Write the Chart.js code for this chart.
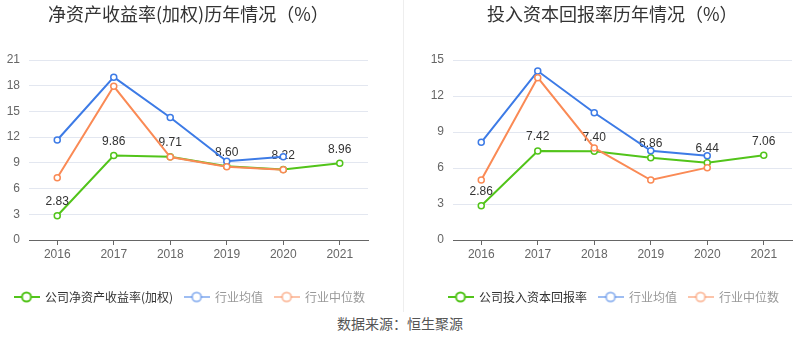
<!DOCTYPE html>
<html>
<head>
<meta charset="utf-8">
<script src="https://cdn.jsdelivr.net/npm/chart.js@4/dist/chart.umd.min.js"></script>
<style>
  body { margin: 0; background: #fff; }
  #wrap { position: relative; width: 800px; height: 358px; overflow: hidden; font-family: "Noto Sans CJK SC", sans-serif; }
  .box { position: absolute; top: 0; width: 400px; height: 313px; }
  .title { position: absolute; top: 0; font-size: 18px; line-height: 26px; color: #333; white-space: nowrap; }
  #src { position: absolute; left: 0; width: 800px; top: 314px; text-align: center; font-size: 14px; line-height: 18px; color: #555; }
  #sep { position: absolute; left: 403px; top: 0; width: 1px; height: 312px; background: #eeeeee; }
</style>
</head>
<body>
<div id="wrap">
  <div class="box" style="left:0"><canvas id="roeChart" width="400" height="313"></canvas></div>
  <div class="box" style="left:400px"><canvas id="roicChart" width="400" height="313"></canvas></div>
  <div class="title" style="left:48px">净资产收益率(加权)历年情况（%）</div>
  <div class="title" style="left:487px">投入资本回报率历年情况（%）</div>
  <div id="sep"></div>
  <div id="src">数据来源：恒生聚源</div>
</div>
<script>
// --- data ---
const years = ['2016', '2017', '2018', '2019', '2020', '2021'];

const roeCompany = [2.83, 9.86, 9.71, 8.60, 8.22, 8.96];
const roeMean = [11.67, 19.0, 14.3, 9.18, 9.72];
const roeMedian = [7.27, 17.93, 9.68, 8.55, 8.2];

const roicCompany = [2.86, 7.42, 7.40, 6.86, 6.44, 7.06];
const roicMean = [8.14, 14.08, 10.6, 7.44, 7.03];
const roicMedian = [5.0, 13.53, 7.67, 5.0, 6.03];

const GREEN = '#52c41a';
const BLUE = '#3d7be6';
const ORANGE = '#fa8a55';

// legend symbol: short line with hollow circle
function legendIcon(color) {
  const c = document.createElement('canvas');
  c.width = 26; c.height = 12;
  const g = c.getContext('2d');
  g.strokeStyle = color;
  g.lineWidth = 2;
  g.beginPath(); g.moveTo(0, 6); g.lineTo(26, 6); g.stroke();
  g.beginPath(); g.arc(13, 6, 4.5, 0, Math.PI * 2);
  g.fillStyle = '#fff'; g.fill(); g.stroke();
  return c;
}
const icons = [legendIcon(GREEN), legendIcon('rgba(61,123,230,0.5)'), legendIcon('rgba(250,138,85,0.5)')];
const legendColors = ['#333', '#999', '#999'];

// value labels on the company series, drawn before the other lines go on top
const valueLabels = {
  id: 'valueLabels',
  afterDatasetDraw(chart, args) {
    if (args.index !== 0) return;
    const ctx = chart.ctx;
    ctx.save();
    ctx.font = '12px "Liberation Sans", Arial, sans-serif';
    ctx.fillStyle = '#333';
    ctx.textAlign = 'center';
    ctx.textBaseline = 'middle';
    args.meta.data.forEach((pt, i) => {
      ctx.fillText(chart.data.datasets[0].data[i].toFixed(2), pt.x, pt.y - 14);
    });
    ctx.restore();
  }
};

// push the legend sideways without touching the axes
const legendShift = {
  id: 'legendShift',
  afterLayout(chart, args, opts) {
    if (chart.legend) chart.legend.left += opts.dx || 0;
  }
};

function line(label, data, color, order) {
  return {
    label: label,
    data: data,
    borderColor: color,
    backgroundColor: '#fff',
    borderWidth: 2,
    pointRadius: 3,
    pointBorderWidth: 1.5,
    pointBackgroundColor: '#fff',
    pointBorderColor: color,
    pointHoverRadius: 3,
    tension: 0,
    order: order
  };
}

function makeChart(id, companyLabel, company, mean, median, yMax, yWidth, rightWidth, legendDx) {
  return new Chart(document.getElementById(id), {
    type: 'line',
    data: {
      labels: years,
      datasets: [
        line(companyLabel, company, GREEN, 3),
        line('行业均值', mean, BLUE, 2),
        line('行业中位数', median, ORANGE, 1)
      ]
    },
    plugins: [valueLabels, legendShift],
    options: {
      responsive: false,
      animation: false,
      events: [],
      layout: { padding: { left: 3, right: 0, top: 60, bottom: 0 } },
      scales: {
        x: {
          offset: true,
          grid: { display: true, drawOnChartArea: false, drawTicks: true, tickLength: 5, tickColor: '#666', offset: false },
          border: { display: true, color: '#666', width: 1 },
          ticks: { color: '#666', padding: 2, font: { size: 12, family: '"Liberation Sans", Arial, sans-serif' } },
          afterFit: s => { s.height = 40; }
        },
        y: {
          min: 0,
          max: yMax,
          grid: { color: '#e3e7f0', drawTicks: false },
          border: { display: false },
          ticks: { stepSize: 3, color: '#666', padding: 9, font: { size: 12, family: '"Liberation Sans", Arial, sans-serif' } },
          afterFit: s => { s.width = yWidth; }
        },
        yR: {
          position: 'right',
          display: true,
          grid: { display: false },
          border: { display: false },
          ticks: { display: false },
          afterFit: s => { s.width = rightWidth; }
        }
      },
      plugins: {
        tooltip: { enabled: false },
        title: { display: false },
        legendShift: { dx: legendDx },
        legend: {
          position: 'bottom',
          align: 'start',
          labels: {
            usePointStyle: true,
            pointStyleWidth: 25,
            padding: 11,
            font: { size: 12, family: '"Noto Sans CJK SC", sans-serif' },
            generateLabels: chart => chart.data.datasets.map((ds, i) => ({
              text: ds.label,
              datasetIndex: i,
              pointStyle: icons[i],
              fontColor: legendColors[i],
              fillStyle: '#fff',
              strokeStyle: ds.borderColor,
              lineWidth: 0,
              hidden: false
            }))
          }
        }
      }
    }
  });
}

makeChart('roeChart', '公司净资产收益率(加权)', roeCompany, roeMean, roeMedian, 21, 26, 32, 0);
makeChart('roicChart', '公司投入资本回报率', roicCompany, roicMean, roicMedian, 15, 50, 8, 34);
</script>
</body>
</html>
